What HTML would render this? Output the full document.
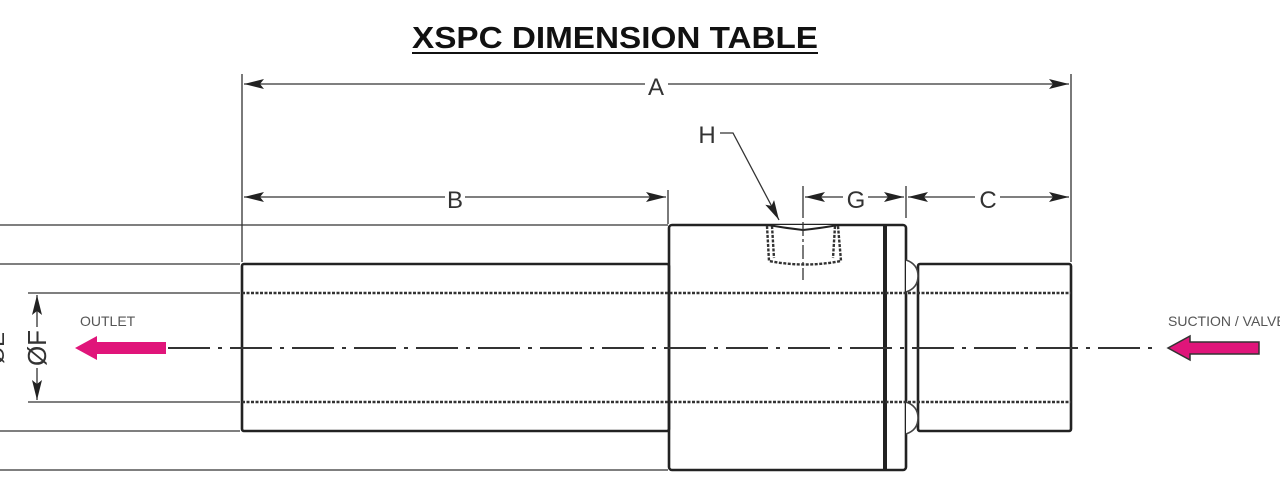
<!DOCTYPE html>
<html><head><style>html,body{margin:0;padding:0;background:#fff;}svg{display:block}</style></head>
<body>
<svg width="1280" height="500" viewBox="0 0 1280 500" xmlns="http://www.w3.org/2000/svg" font-family="Liberation Sans, sans-serif">
<defs>
<marker id="ar" viewBox="0 0 20 10" refX="20" refY="5" markerWidth="20" markerHeight="10" markerUnits="userSpaceOnUse" orient="auto-start-reverse"><path d="M0,0 L20,5 L0,10 L4,5z" fill="#222"/></marker>
</defs>
<text x="615" y="48" text-anchor="middle" font-size="31" font-weight="bold" fill="#111" textLength="406" lengthAdjust="spacingAndGlyphs">XSPC DIMENSION TABLE</text>
<line x1="412" y1="53" x2="818" y2="53" stroke="#111" stroke-width="2"/>
<g stroke="#333" stroke-width="1.3" fill="none">
<line x1="242" y1="74" x2="242" y2="262"/>
<line x1="1071" y1="74" x2="1071" y2="262"/>
<line x1="668" y1="190" x2="668" y2="224"/>
<line x1="803" y1="186" x2="803" y2="218"/>
<line x1="906" y1="186" x2="906" y2="218"/>
<line x1="244" y1="84" x2="645" y2="84" marker-start="url(#ar)"/>
<line x1="668" y1="84" x2="1069" y2="84" marker-end="url(#ar)"/>
<line x1="244" y1="197" x2="445" y2="197" marker-start="url(#ar)"/>
<line x1="465" y1="197" x2="666" y2="197" marker-end="url(#ar)"/>
<line x1="805" y1="197" x2="843" y2="197" marker-start="url(#ar)"/>
<line x1="868" y1="197" x2="904" y2="197" marker-end="url(#ar)"/>
<line x1="908" y1="197" x2="975" y2="197" marker-start="url(#ar)"/>
<line x1="1000" y1="197" x2="1069" y2="197" marker-end="url(#ar)"/>
<polyline points="720,133 733,133 779,220" marker-end="url(#ar)"/>
<line x1="0" y1="225" x2="668" y2="225"/>
<line x1="0" y1="264" x2="240" y2="264"/>
<line x1="28" y1="293" x2="240" y2="293"/>
<line x1="28" y1="402" x2="240" y2="402"/>
<line x1="0" y1="431" x2="240" y2="431"/>
<line x1="0" y1="470" x2="668" y2="470"/>
<line x1="37" y1="295" x2="37" y2="327" marker-start="url(#ar)"/>
<line x1="37" y1="368" x2="37" y2="400" marker-end="url(#ar)"/>
</g>
<g font-size="24" fill="#333" text-anchor="middle">
<text x="656" y="95">A</text>
<text x="455" y="208">B</text>
<text x="856" y="208">G</text>
<text x="988" y="208">C</text>
<text x="707" y="143">H</text>
<text transform="translate(46,348) rotate(-90)" font-size="26">ØF</text>
<text transform="translate(4,348) rotate(-90)" font-size="22">ØE</text>
</g>
<g stroke="#222" stroke-width="2.6" fill="none">
<rect x="242" y="264" width="427" height="167" rx="2"/>
<rect x="669" y="225" width="237" height="245" rx="3"/>
<rect x="918" y="264" width="153" height="167" rx="2"/>
<line x1="885" y1="225" x2="885" y2="470" stroke-width="4"/>
</g>
<g stroke="#444" stroke-width="1.6" fill="#fff">
<path d="M906,260 q12,4 12,16 q0,12 -12,16"/>
<path d="M906,402 q12,4 12,16 q0,12 -12,16"/>
</g>
<g stroke="#333" stroke-width="2.4" stroke-dasharray="3,1.5" fill="none">
<line x1="242" y1="293" x2="1071" y2="293"/>
<line x1="242" y1="402" x2="1071" y2="402"/>
<path d="M767,226 L769,261 Q805,268 841,261 L838,226"/>
<path d="M772,226 L774,258 M835,226 L833,258"/>
</g>
<path d="M768,225 Q785,228 803,230 Q822,228 838,225" stroke="#222" stroke-width="2" fill="#fff"/>
<line x1="803" y1="222" x2="803" y2="280" stroke="#333" stroke-width="1.3" stroke-dasharray="14,3,3,3"/>
<line x1="168" y1="348" x2="1160" y2="348" stroke="#333" stroke-width="2" stroke-dasharray="42,8,4,8"/>
<path d="M166,342 L97,342 L97,336 L75,348 L97,360 L97,354 L166,354z" fill="#e0157a"/>
<path d="M1259,342 L1190,342 L1190,336 L1168,348 L1190,360 L1190,354 L1259,354z" fill="#e0157a" stroke="#333" stroke-width="1.5"/>
<text x="80" y="326" font-size="14" fill="#555">OUTLET</text>
<text x="1168" y="326" font-size="14" fill="#555">SUCTION / VALVE</text>
</svg>
</body></html>
